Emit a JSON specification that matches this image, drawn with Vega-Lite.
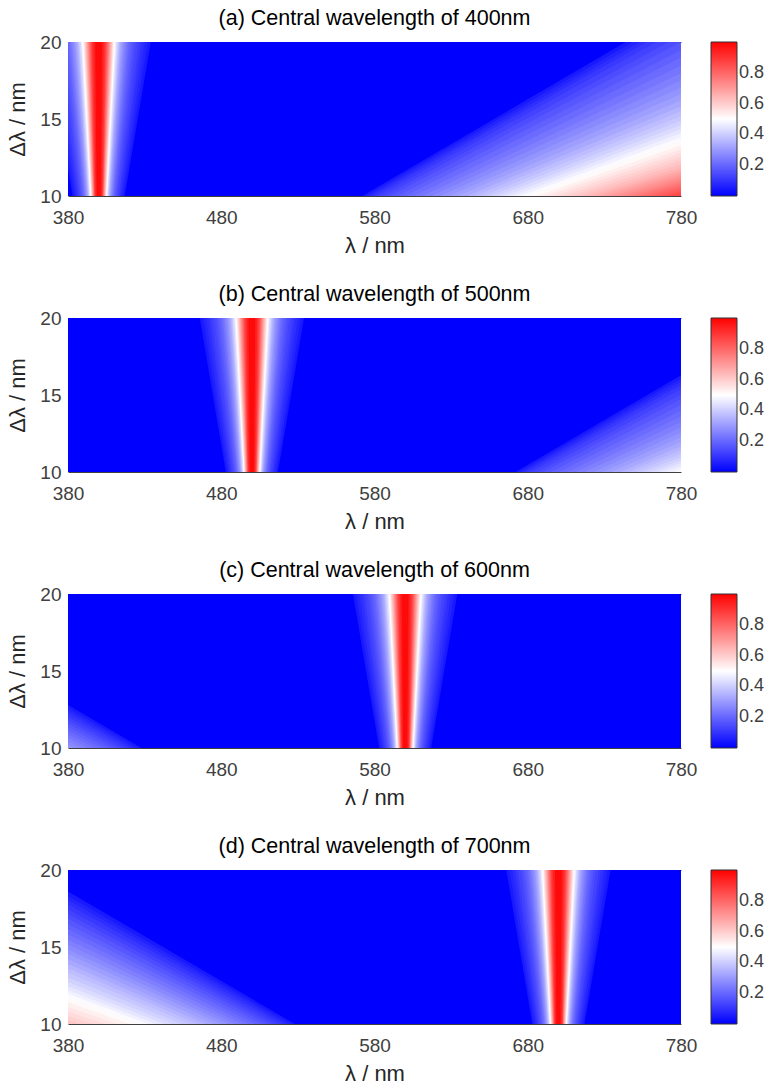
{
  "$schema": "https://vega.github.io/schema/vega-lite/v6.json",
  "padding": {"left": 6, "top": 7, "right": 0, "bottom": 0},
  "config": {
    "font": "Liberation Sans",
    "view": {"stroke": null},
    "axis": {"labelFont": "Liberation Sans", "labelFontSize": 19, "labelColor": "#404040", "titleFont": "Liberation Sans", "titleFontSize": 22, "titleFontWeight": "normal", "titleColor": "#262626", "grid": false, "ticks": false, "labelFlush": false},
    "title": {"font": "Liberation Sans", "fontSize": 21.5, "fontWeight": "normal", "color": "#000000"},
    "legend": {"title": null, "gradientLength": 154, "gradientThickness": 26, "gradientStrokeColor": "#333333", "gradientStrokeWidth": 1, "labelFont": "Liberation Sans", "labelFontSize": 18, "labelColor": "#404040", "labelOffset": 8, "offset": 30, "direction": "vertical", "orient": "right"}
  },
  "spacing": 27,
  "resolve": {"scale": {"color": "independent"}},
  "vconcat": [
    {
      "title": "(a) Central wavelength of 400nm",
      "width": 613, "height": 154,
      "data": {"values": [
        {"g":"bg","v":0,"d":10,"a":360,"b":800},{"g":"bg","v":0,"d":20,"a":360,"b":800},
        {"g":"m","v":0.05,"d":10,"a":383,"b":417},{"g":"m","v":0.05,"d":20,"a":366,"b":434},
        {"g":"m","v":0.07,"d":10,"a":384,"b":416},{"g":"m","v":0.07,"d":20,"a":368,"b":432},
        {"g":"m","v":0.09,"d":10,"a":385,"b":415},{"g":"m","v":0.09,"d":20,"a":370,"b":430},
        {"g":"m","v":0.11,"d":10,"a":386,"b":414},{"g":"m","v":0.11,"d":20,"a":372,"b":428},
        {"g":"m","v":0.13,"d":10,"a":386.8,"b":413.2},{"g":"m","v":0.13,"d":20,"a":373.6,"b":426.4},
        {"g":"m","v":0.15,"d":10,"a":387.8,"b":412.2},{"g":"m","v":0.15,"d":20,"a":375.6,"b":424.4},
        {"g":"m","v":0.17,"d":10,"a":388.6,"b":411.4},{"g":"m","v":0.17,"d":20,"a":377.2,"b":422.8},
        {"g":"m","v":0.19,"d":10,"a":389.3,"b":410.7},{"g":"m","v":0.19,"d":20,"a":378.6,"b":421.4},
        {"g":"m","v":0.21,"d":10,"a":390,"b":410},{"g":"m","v":0.21,"d":20,"a":380,"b":420},
        {"g":"m","v":0.23,"d":10,"a":390.5,"b":409.5},{"g":"m","v":0.23,"d":20,"a":381,"b":419},
        {"g":"m","v":0.25,"d":10,"a":391,"b":409},{"g":"m","v":0.25,"d":20,"a":382,"b":418},
        {"g":"m","v":0.27,"d":10,"a":391.45,"b":408.55},{"g":"m","v":0.27,"d":20,"a":382.9,"b":417.1},
        {"g":"m","v":0.29,"d":10,"a":391.9,"b":408.1},{"g":"m","v":0.29,"d":20,"a":383.8,"b":416.2},
        {"g":"m","v":0.31,"d":10,"a":392.3,"b":407.7},{"g":"m","v":0.31,"d":20,"a":384.6,"b":415.4},
        {"g":"m","v":0.33,"d":10,"a":392.6,"b":407.4},{"g":"m","v":0.33,"d":20,"a":385.2,"b":414.8},
        {"g":"m","v":0.35,"d":10,"a":393,"b":407},{"g":"m","v":0.35,"d":20,"a":386,"b":414},
        {"g":"m","v":0.37,"d":10,"a":393.25,"b":406.75},{"g":"m","v":0.37,"d":20,"a":386.5,"b":413.5},
        {"g":"m","v":0.39,"d":10,"a":393.5,"b":406.5},{"g":"m","v":0.39,"d":20,"a":387,"b":413},
        {"g":"m","v":0.42,"d":10,"a":393.75,"b":406.25},{"g":"m","v":0.42,"d":20,"a":387.5,"b":412.5},
        {"g":"m","v":0.46,"d":10,"a":394.2,"b":405.8},{"g":"m","v":0.46,"d":20,"a":388.4,"b":411.6},
        {"g":"m","v":0.50,"d":10,"a":394.6,"b":405.4},{"g":"m","v":0.50,"d":20,"a":389.2,"b":410.8},
        {"g":"m","v":0.54,"d":10,"a":395,"b":405},{"g":"m","v":0.54,"d":20,"a":390,"b":410},
        {"g":"m","v":0.58,"d":10,"a":395.3,"b":404.7},{"g":"m","v":0.58,"d":20,"a":390.6,"b":409.4},
        {"g":"m","v":0.62,"d":10,"a":395.6,"b":404.4},{"g":"m","v":0.62,"d":20,"a":391.2,"b":408.8},
        {"g":"m","v":0.66,"d":10,"a":395.9,"b":404.1},{"g":"m","v":0.66,"d":20,"a":391.8,"b":408.2},
        {"g":"m","v":0.70,"d":10,"a":396.2,"b":403.8},{"g":"m","v":0.70,"d":20,"a":392.4,"b":407.6},
        {"g":"m","v":0.74,"d":10,"a":396.5,"b":403.5},{"g":"m","v":0.74,"d":20,"a":393,"b":407},
        {"g":"m","v":0.78,"d":10,"a":396.8,"b":403.2},{"g":"m","v":0.78,"d":20,"a":393.6,"b":406.4},
        {"g":"m","v":0.82,"d":10,"a":397.1,"b":402.9},{"g":"m","v":0.82,"d":20,"a":394.2,"b":405.8},
        {"g":"m","v":0.86,"d":10,"a":397.2,"b":402.8},{"g":"m","v":0.86,"d":20,"a":394.9,"b":405.1},
        {"g":"m","v":0.90,"d":10,"a":397.55,"b":402.45},{"g":"m","v":0.90,"d":20,"a":395.6,"b":404.4},
        {"g":"m","v":0.94,"d":10,"a":398.05,"b":401.95},{"g":"m","v":0.94,"d":20,"a":396.6,"b":403.4},
        {"g":"m","v":0.98,"d":10,"a":398.7,"b":401.3},{"g":"m","v":0.98,"d":20,"a":397.8,"b":402.2},
        {"g":"s","v":0.05,"d":10,"a":572,"b":800},{"g":"s","v":0.05,"d":20,"a":744,"b":800},
        {"g":"s","v":0.07,"d":10,"a":574.3,"b":800},{"g":"s","v":0.07,"d":20,"a":748.6,"b":800},
        {"g":"s","v":0.09,"d":10,"a":576.6,"b":800},{"g":"s","v":0.09,"d":20,"a":753.2,"b":800},
        {"g":"s","v":0.11,"d":10,"a":578.9,"b":800},{"g":"s","v":0.11,"d":20,"a":757.8,"b":800},
        {"g":"s","v":0.13,"d":10,"a":582,"b":800},{"g":"s","v":0.13,"d":20,"a":764,"b":800},
        {"g":"s","v":0.15,"d":10,"a":586,"b":800},{"g":"s","v":0.15,"d":20,"a":772,"b":800},
        {"g":"s","v":0.17,"d":10,"a":590,"b":800},{"g":"s","v":0.17,"d":20,"a":780,"b":800},
        {"g":"s","v":0.19,"d":10,"a":595,"b":800},{"g":"s","v":0.19,"d":20,"a":790,"b":800},
        {"g":"s","v":0.21,"d":10,"a":600,"b":800},{"g":"s","v":0.21,"d":20,"a":800,"b":800},
        {"g":"s","v":0.23,"d":10,"a":605.7,"b":800},{"g":"s","v":0.23,"d":20,"a":811.4,"b":800},
        {"g":"s","v":0.25,"d":10,"a":611.4,"b":800},{"g":"s","v":0.25,"d":20,"a":822.8,"b":800},
        {"g":"s","v":0.27,"d":10,"a":617.1,"b":800},{"g":"s","v":0.27,"d":20,"a":834.2,"b":800},
        {"g":"s","v":0.29,"d":10,"a":622.9,"b":800},{"g":"s","v":0.29,"d":20,"a":845.8,"b":800},
        {"g":"s","v":0.31,"d":10,"a":628.6,"b":800},{"g":"s","v":0.31,"d":20,"a":857.2,"b":800},
        {"g":"s","v":0.33,"d":10,"a":634.3,"b":800},{"g":"s","v":0.33,"d":20,"a":868.6,"b":800},
        {"g":"s","v":0.35,"d":10,"a":640,"b":800},{"g":"s","v":0.35,"d":20,"a":880,"b":800},
        {"g":"s","v":0.37,"d":10,"a":645,"b":800},{"g":"s","v":0.37,"d":20,"a":890,"b":800},
        {"g":"s","v":0.39,"d":10,"a":650,"b":800},{"g":"s","v":0.39,"d":20,"a":900,"b":800},
        {"g":"s","v":0.41,"d":10,"a":655,"b":800},{"g":"s","v":0.41,"d":20,"a":910,"b":800},
        {"g":"s","v":0.43,"d":10,"a":660,"b":800},{"g":"s","v":0.43,"d":20,"a":920,"b":800},
        {"g":"s","v":0.45,"d":10,"a":665,"b":800},{"g":"s","v":0.45,"d":20,"a":930,"b":800},
        {"g":"s","v":0.47,"d":10,"a":670,"b":800},{"g":"s","v":0.47,"d":20,"a":940,"b":800},
        {"g":"s","v":0.49,"d":10,"a":675,"b":800},{"g":"s","v":0.49,"d":20,"a":950,"b":800},
        {"g":"s","v":0.51,"d":10,"a":680,"b":800},{"g":"s","v":0.51,"d":20,"a":960,"b":800},
        {"g":"s","v":0.53,"d":10,"a":685.7,"b":800},{"g":"s","v":0.53,"d":20,"a":971.4,"b":800},
        {"g":"s","v":0.55,"d":10,"a":691.4,"b":800},{"g":"s","v":0.55,"d":20,"a":982.8,"b":800},
        {"g":"s","v":0.57,"d":10,"a":697.1,"b":800},{"g":"s","v":0.57,"d":20,"a":994.2,"b":800},
        {"g":"s","v":0.59,"d":10,"a":702.9,"b":800},{"g":"s","v":0.59,"d":20,"a":1005.8,"b":800},
        {"g":"s","v":0.61,"d":10,"a":708.6,"b":800},{"g":"s","v":0.61,"d":20,"a":1017.2,"b":800},
        {"g":"s","v":0.63,"d":10,"a":714.3,"b":800},{"g":"s","v":0.63,"d":20,"a":1028.6,"b":800},
        {"g":"s","v":0.65,"d":10,"a":720,"b":800},{"g":"s","v":0.65,"d":20,"a":1040,"b":800},
        {"g":"s","v":0.67,"d":10,"a":725,"b":800},{"g":"s","v":0.67,"d":20,"a":1050,"b":800},
        {"g":"s","v":0.69,"d":10,"a":730,"b":800},{"g":"s","v":0.69,"d":20,"a":1060,"b":800},
        {"g":"s","v":0.71,"d":10,"a":735,"b":800},{"g":"s","v":0.71,"d":20,"a":1070,"b":800},
        {"g":"s","v":0.73,"d":10,"a":740,"b":800},{"g":"s","v":0.73,"d":20,"a":1080,"b":800},
        {"g":"s","v":0.75,"d":10,"a":745,"b":800},{"g":"s","v":0.75,"d":20,"a":1090,"b":800},
        {"g":"s","v":0.77,"d":10,"a":750,"b":800},{"g":"s","v":0.77,"d":20,"a":1100,"b":800},
        {"g":"s","v":0.79,"d":10,"a":755,"b":800},{"g":"s","v":0.79,"d":20,"a":1110,"b":800},
        {"g":"s","v":0.81,"d":10,"a":760,"b":800},{"g":"s","v":0.81,"d":20,"a":1120,"b":800},
        {"g":"s","v":0.83,"d":10,"a":765,"b":800},{"g":"s","v":0.83,"d":20,"a":1130,"b":800},
        {"g":"s","v":0.85,"d":10,"a":770,"b":800},{"g":"s","v":0.85,"d":20,"a":1140,"b":800},
        {"g":"s","v":0.87,"d":10,"a":775,"b":800},{"g":"s","v":0.87,"d":20,"a":1150,"b":800}
      ]},
      "layer": [
        {
          "mark": {"type": "area", "orient": "horizontal", "clip": true},
          "encoding": {
            "y": {"field": "d", "type": "quantitative", "scale": {"domain": [10, 20], "nice": false, "zero": false}, "axis": {"values": [10, 15, 20], "title": "Δλ / nm", "domain": false, "labelPadding": 7, "titlePadding": 10}},
            "x": {"field": "a", "type": "quantitative", "stack": null, "scale": {"domain": [380, 780], "nice": false, "zero": false}, "axis": {"values": [380, 480, 580, 680, 780], "title": "λ / nm", "domain": true, "domainColor": "#404040", "labelPadding": 12, "titlePadding": 8}},
            "x2": {"field": "b"},
            "color": {"field": "v", "type": "quantitative", "scale": {"domain": [0, 0.5, 1], "range": ["#0000ff", "#ffffff", "#ff0000"], "interpolate": "rgb"}, "legend": {"values": [0.2, 0.4, 0.6, 0.8]}},
            "detail": {"field": "g"}
          }
        },
        {
          "data": {"values": [{"a": 380, "d": 10}]},
          "mark": {"type": "point", "opacity": 0},
          "encoding": {
            "x": {"field": "a", "type": "quantitative", "scale": {"domain": [380, 780], "nice": false, "zero": false}, "axis": {"orient": "top", "labels": false, "ticks": false, "title": null, "domain": true, "domainColor": "#404040"}},
            "y": {"field": "d", "type": "quantitative"}
          }
        }
      ],
      "resolve": {"axis": {"x": "independent"}}
    },
    {
      "title": "(b) Central wavelength of 500nm",
      "width": 613, "height": 154,
      "data": {"values": [
        {"g":"bg","v":0,"d":10,"a":360,"b":800},{"g":"bg","v":0,"d":20,"a":360,"b":800},
        {"g":"m","v":0.05,"d":10,"a":483,"b":517},{"g":"m","v":0.05,"d":20,"a":466,"b":534},
        {"g":"m","v":0.07,"d":10,"a":484,"b":516},{"g":"m","v":0.07,"d":20,"a":468,"b":532},
        {"g":"m","v":0.09,"d":10,"a":485,"b":515},{"g":"m","v":0.09,"d":20,"a":470,"b":530},
        {"g":"m","v":0.11,"d":10,"a":486,"b":514},{"g":"m","v":0.11,"d":20,"a":472,"b":528},
        {"g":"m","v":0.13,"d":10,"a":486.8,"b":513.2},{"g":"m","v":0.13,"d":20,"a":473.6,"b":526.4},
        {"g":"m","v":0.15,"d":10,"a":487.8,"b":512.2},{"g":"m","v":0.15,"d":20,"a":475.6,"b":524.4},
        {"g":"m","v":0.17,"d":10,"a":488.6,"b":511.4},{"g":"m","v":0.17,"d":20,"a":477.2,"b":522.8},
        {"g":"m","v":0.19,"d":10,"a":489.3,"b":510.7},{"g":"m","v":0.19,"d":20,"a":478.6,"b":521.4},
        {"g":"m","v":0.21,"d":10,"a":490,"b":510},{"g":"m","v":0.21,"d":20,"a":480,"b":520},
        {"g":"m","v":0.23,"d":10,"a":490.5,"b":509.5},{"g":"m","v":0.23,"d":20,"a":481,"b":519},
        {"g":"m","v":0.25,"d":10,"a":491,"b":509},{"g":"m","v":0.25,"d":20,"a":482,"b":518},
        {"g":"m","v":0.27,"d":10,"a":491.45,"b":508.55},{"g":"m","v":0.27,"d":20,"a":482.9,"b":517.1},
        {"g":"m","v":0.29,"d":10,"a":491.9,"b":508.1},{"g":"m","v":0.29,"d":20,"a":483.8,"b":516.2},
        {"g":"m","v":0.31,"d":10,"a":492.3,"b":507.7},{"g":"m","v":0.31,"d":20,"a":484.6,"b":515.4},
        {"g":"m","v":0.33,"d":10,"a":492.6,"b":507.4},{"g":"m","v":0.33,"d":20,"a":485.2,"b":514.8},
        {"g":"m","v":0.35,"d":10,"a":493,"b":507},{"g":"m","v":0.35,"d":20,"a":486,"b":514},
        {"g":"m","v":0.37,"d":10,"a":493.25,"b":506.75},{"g":"m","v":0.37,"d":20,"a":486.5,"b":513.5},
        {"g":"m","v":0.39,"d":10,"a":493.5,"b":506.5},{"g":"m","v":0.39,"d":20,"a":487,"b":513},
        {"g":"m","v":0.42,"d":10,"a":493.75,"b":506.25},{"g":"m","v":0.42,"d":20,"a":487.5,"b":512.5},
        {"g":"m","v":0.46,"d":10,"a":494.2,"b":505.8},{"g":"m","v":0.46,"d":20,"a":488.4,"b":511.6},
        {"g":"m","v":0.50,"d":10,"a":494.6,"b":505.4},{"g":"m","v":0.50,"d":20,"a":489.2,"b":510.8},
        {"g":"m","v":0.54,"d":10,"a":495,"b":505},{"g":"m","v":0.54,"d":20,"a":490,"b":510},
        {"g":"m","v":0.58,"d":10,"a":495.3,"b":504.7},{"g":"m","v":0.58,"d":20,"a":490.6,"b":509.4},
        {"g":"m","v":0.62,"d":10,"a":495.6,"b":504.4},{"g":"m","v":0.62,"d":20,"a":491.2,"b":508.8},
        {"g":"m","v":0.66,"d":10,"a":495.9,"b":504.1},{"g":"m","v":0.66,"d":20,"a":491.8,"b":508.2},
        {"g":"m","v":0.70,"d":10,"a":496.2,"b":503.8},{"g":"m","v":0.70,"d":20,"a":492.4,"b":507.6},
        {"g":"m","v":0.74,"d":10,"a":496.5,"b":503.5},{"g":"m","v":0.74,"d":20,"a":493,"b":507},
        {"g":"m","v":0.78,"d":10,"a":496.8,"b":503.2},{"g":"m","v":0.78,"d":20,"a":493.6,"b":506.4},
        {"g":"m","v":0.82,"d":10,"a":497.1,"b":502.9},{"g":"m","v":0.82,"d":20,"a":494.2,"b":505.8},
        {"g":"m","v":0.86,"d":10,"a":497.2,"b":502.8},{"g":"m","v":0.86,"d":20,"a":494.9,"b":505.1},
        {"g":"m","v":0.90,"d":10,"a":497.55,"b":502.45},{"g":"m","v":0.90,"d":20,"a":495.6,"b":504.4},
        {"g":"m","v":0.94,"d":10,"a":498.05,"b":501.95},{"g":"m","v":0.94,"d":20,"a":496.6,"b":503.4},
        {"g":"m","v":0.98,"d":10,"a":498.7,"b":501.3},{"g":"m","v":0.98,"d":20,"a":497.8,"b":502.2},
        {"g":"s","v":0.05,"d":10,"a":672,"b":800},{"g":"s","v":0.05,"d":20,"a":844,"b":800},
        {"g":"s","v":0.07,"d":10,"a":674.3,"b":800},{"g":"s","v":0.07,"d":20,"a":848.6,"b":800},
        {"g":"s","v":0.09,"d":10,"a":676.6,"b":800},{"g":"s","v":0.09,"d":20,"a":853.2,"b":800},
        {"g":"s","v":0.11,"d":10,"a":678.9,"b":800},{"g":"s","v":0.11,"d":20,"a":857.8,"b":800},
        {"g":"s","v":0.13,"d":10,"a":682,"b":800},{"g":"s","v":0.13,"d":20,"a":864,"b":800},
        {"g":"s","v":0.15,"d":10,"a":686,"b":800},{"g":"s","v":0.15,"d":20,"a":872,"b":800},
        {"g":"s","v":0.17,"d":10,"a":690,"b":800},{"g":"s","v":0.17,"d":20,"a":880,"b":800},
        {"g":"s","v":0.19,"d":10,"a":695,"b":800},{"g":"s","v":0.19,"d":20,"a":890,"b":800},
        {"g":"s","v":0.21,"d":10,"a":700,"b":800},{"g":"s","v":0.21,"d":20,"a":900,"b":800},
        {"g":"s","v":0.23,"d":10,"a":705.7,"b":800},{"g":"s","v":0.23,"d":20,"a":911.4,"b":800},
        {"g":"s","v":0.25,"d":10,"a":711.4,"b":800},{"g":"s","v":0.25,"d":20,"a":922.8,"b":800},
        {"g":"s","v":0.27,"d":10,"a":717.1,"b":800},{"g":"s","v":0.27,"d":20,"a":934.2,"b":800},
        {"g":"s","v":0.29,"d":10,"a":722.9,"b":800},{"g":"s","v":0.29,"d":20,"a":945.8,"b":800},
        {"g":"s","v":0.31,"d":10,"a":728.6,"b":800},{"g":"s","v":0.31,"d":20,"a":957.2,"b":800},
        {"g":"s","v":0.33,"d":10,"a":734.3,"b":800},{"g":"s","v":0.33,"d":20,"a":968.6,"b":800},
        {"g":"s","v":0.35,"d":10,"a":740,"b":800},{"g":"s","v":0.35,"d":20,"a":980,"b":800},
        {"g":"s","v":0.37,"d":10,"a":745,"b":800},{"g":"s","v":0.37,"d":20,"a":990,"b":800},
        {"g":"s","v":0.39,"d":10,"a":750,"b":800},{"g":"s","v":0.39,"d":20,"a":1000,"b":800},
        {"g":"s","v":0.41,"d":10,"a":755,"b":800},{"g":"s","v":0.41,"d":20,"a":1010,"b":800},
        {"g":"s","v":0.43,"d":10,"a":760,"b":800},{"g":"s","v":0.43,"d":20,"a":1020,"b":800},
        {"g":"s","v":0.45,"d":10,"a":765,"b":800},{"g":"s","v":0.45,"d":20,"a":1030,"b":800},
        {"g":"s","v":0.47,"d":10,"a":770,"b":800},{"g":"s","v":0.47,"d":20,"a":1040,"b":800},
        {"g":"s","v":0.49,"d":10,"a":775,"b":800},{"g":"s","v":0.49,"d":20,"a":1050,"b":800}
      ]},
      "layer": [
        {
          "mark": {"type": "area", "orient": "horizontal", "clip": true},
          "encoding": {
            "y": {"field": "d", "type": "quantitative", "scale": {"domain": [10, 20], "nice": false, "zero": false}, "axis": {"values": [10, 15, 20], "title": "Δλ / nm", "domain": false, "labelPadding": 7, "titlePadding": 10}},
            "x": {"field": "a", "type": "quantitative", "stack": null, "scale": {"domain": [380, 780], "nice": false, "zero": false}, "axis": {"values": [380, 480, 580, 680, 780], "title": "λ / nm", "domain": true, "domainColor": "#404040", "labelPadding": 12, "titlePadding": 8}},
            "x2": {"field": "b"},
            "color": {"field": "v", "type": "quantitative", "scale": {"domain": [0, 0.5, 1], "range": ["#0000ff", "#ffffff", "#ff0000"], "interpolate": "rgb"}, "legend": {"values": [0.2, 0.4, 0.6, 0.8]}},
            "detail": {"field": "g"}
          }
        },
        {
          "data": {"values": [{"a": 380, "d": 10}]},
          "mark": {"type": "point", "opacity": 0},
          "encoding": {
            "x": {"field": "a", "type": "quantitative", "scale": {"domain": [380, 780], "nice": false, "zero": false}, "axis": {"orient": "top", "labels": false, "ticks": false, "title": null, "domain": true, "domainColor": "#404040"}},
            "y": {"field": "d", "type": "quantitative"}
          }
        }
      ],
      "resolve": {"axis": {"x": "independent"}}
    },
    {
      "title": "(c) Central wavelength of 600nm",
      "width": 613, "height": 154,
      "data": {"values": [
        {"g":"bg","v":0,"d":10,"a":360,"b":800},{"g":"bg","v":0,"d":20,"a":360,"b":800},
        {"g":"m","v":0.05,"d":10,"a":583,"b":617},{"g":"m","v":0.05,"d":20,"a":566,"b":634},
        {"g":"m","v":0.07,"d":10,"a":584,"b":616},{"g":"m","v":0.07,"d":20,"a":568,"b":632},
        {"g":"m","v":0.09,"d":10,"a":585,"b":615},{"g":"m","v":0.09,"d":20,"a":570,"b":630},
        {"g":"m","v":0.11,"d":10,"a":586,"b":614},{"g":"m","v":0.11,"d":20,"a":572,"b":628},
        {"g":"m","v":0.13,"d":10,"a":586.8,"b":613.2},{"g":"m","v":0.13,"d":20,"a":573.6,"b":626.4},
        {"g":"m","v":0.15,"d":10,"a":587.8,"b":612.2},{"g":"m","v":0.15,"d":20,"a":575.6,"b":624.4},
        {"g":"m","v":0.17,"d":10,"a":588.6,"b":611.4},{"g":"m","v":0.17,"d":20,"a":577.2,"b":622.8},
        {"g":"m","v":0.19,"d":10,"a":589.3,"b":610.7},{"g":"m","v":0.19,"d":20,"a":578.6,"b":621.4},
        {"g":"m","v":0.21,"d":10,"a":590,"b":610},{"g":"m","v":0.21,"d":20,"a":580,"b":620},
        {"g":"m","v":0.23,"d":10,"a":590.5,"b":609.5},{"g":"m","v":0.23,"d":20,"a":581,"b":619},
        {"g":"m","v":0.25,"d":10,"a":591,"b":609},{"g":"m","v":0.25,"d":20,"a":582,"b":618},
        {"g":"m","v":0.27,"d":10,"a":591.45,"b":608.55},{"g":"m","v":0.27,"d":20,"a":582.9,"b":617.1},
        {"g":"m","v":0.29,"d":10,"a":591.9,"b":608.1},{"g":"m","v":0.29,"d":20,"a":583.8,"b":616.2},
        {"g":"m","v":0.31,"d":10,"a":592.3,"b":607.7},{"g":"m","v":0.31,"d":20,"a":584.6,"b":615.4},
        {"g":"m","v":0.33,"d":10,"a":592.6,"b":607.4},{"g":"m","v":0.33,"d":20,"a":585.2,"b":614.8},
        {"g":"m","v":0.35,"d":10,"a":593,"b":607},{"g":"m","v":0.35,"d":20,"a":586,"b":614},
        {"g":"m","v":0.37,"d":10,"a":593.25,"b":606.75},{"g":"m","v":0.37,"d":20,"a":586.5,"b":613.5},
        {"g":"m","v":0.39,"d":10,"a":593.5,"b":606.5},{"g":"m","v":0.39,"d":20,"a":587,"b":613},
        {"g":"m","v":0.42,"d":10,"a":593.75,"b":606.25},{"g":"m","v":0.42,"d":20,"a":587.5,"b":612.5},
        {"g":"m","v":0.46,"d":10,"a":594.2,"b":605.8},{"g":"m","v":0.46,"d":20,"a":588.4,"b":611.6},
        {"g":"m","v":0.50,"d":10,"a":594.6,"b":605.4},{"g":"m","v":0.50,"d":20,"a":589.2,"b":610.8},
        {"g":"m","v":0.54,"d":10,"a":595,"b":605},{"g":"m","v":0.54,"d":20,"a":590,"b":610},
        {"g":"m","v":0.58,"d":10,"a":595.3,"b":604.7},{"g":"m","v":0.58,"d":20,"a":590.6,"b":609.4},
        {"g":"m","v":0.62,"d":10,"a":595.6,"b":604.4},{"g":"m","v":0.62,"d":20,"a":591.2,"b":608.8},
        {"g":"m","v":0.66,"d":10,"a":595.9,"b":604.1},{"g":"m","v":0.66,"d":20,"a":591.8,"b":608.2},
        {"g":"m","v":0.70,"d":10,"a":596.2,"b":603.8},{"g":"m","v":0.70,"d":20,"a":592.4,"b":607.6},
        {"g":"m","v":0.74,"d":10,"a":596.5,"b":603.5},{"g":"m","v":0.74,"d":20,"a":593,"b":607},
        {"g":"m","v":0.78,"d":10,"a":596.8,"b":603.2},{"g":"m","v":0.78,"d":20,"a":593.6,"b":606.4},
        {"g":"m","v":0.82,"d":10,"a":597.1,"b":602.9},{"g":"m","v":0.82,"d":20,"a":594.2,"b":605.8},
        {"g":"m","v":0.86,"d":10,"a":597.2,"b":602.8},{"g":"m","v":0.86,"d":20,"a":594.9,"b":605.1},
        {"g":"m","v":0.90,"d":10,"a":597.55,"b":602.45},{"g":"m","v":0.90,"d":20,"a":595.6,"b":604.4},
        {"g":"m","v":0.94,"d":10,"a":598.05,"b":601.95},{"g":"m","v":0.94,"d":20,"a":596.6,"b":603.4},
        {"g":"m","v":0.98,"d":10,"a":598.7,"b":601.3},{"g":"m","v":0.98,"d":20,"a":597.8,"b":602.2},
        {"g":"s","v":0.05,"d":10,"a":360,"b":428},{"g":"s","v":0.05,"d":20,"a":360,"b":256},
        {"g":"s","v":0.07,"d":10,"a":360,"b":425.3},{"g":"s","v":0.07,"d":20,"a":360,"b":250.6},
        {"g":"s","v":0.09,"d":10,"a":360,"b":422.7},{"g":"s","v":0.09,"d":20,"a":360,"b":245.4},
        {"g":"s","v":0.11,"d":10,"a":360,"b":420},{"g":"s","v":0.11,"d":20,"a":360,"b":240},
        {"g":"s","v":0.13,"d":10,"a":360,"b":416.7},{"g":"s","v":0.13,"d":20,"a":360,"b":233.4},
        {"g":"s","v":0.15,"d":10,"a":360,"b":413.3},{"g":"s","v":0.15,"d":20,"a":360,"b":226.6},
        {"g":"s","v":0.17,"d":10,"a":360,"b":410},{"g":"s","v":0.17,"d":20,"a":360,"b":220},
        {"g":"s","v":0.19,"d":10,"a":360,"b":406},{"g":"s","v":0.19,"d":20,"a":360,"b":212},
        {"g":"s","v":0.21,"d":10,"a":360,"b":402},{"g":"s","v":0.21,"d":20,"a":360,"b":204},
        {"g":"s","v":0.23,"d":10,"a":360,"b":397.8},{"g":"s","v":0.23,"d":20,"a":360,"b":195.6},
        {"g":"s","v":0.25,"d":10,"a":360,"b":393.3},{"g":"s","v":0.25,"d":20,"a":360,"b":186.6},
        {"g":"s","v":0.27,"d":10,"a":360,"b":388.9},{"g":"s","v":0.27,"d":20,"a":360,"b":177.8},
        {"g":"s","v":0.29,"d":10,"a":360,"b":384.4},{"g":"s","v":0.29,"d":20,"a":360,"b":168.8}
      ]},
      "layer": [
        {
          "mark": {"type": "area", "orient": "horizontal", "clip": true},
          "encoding": {
            "y": {"field": "d", "type": "quantitative", "scale": {"domain": [10, 20], "nice": false, "zero": false}, "axis": {"values": [10, 15, 20], "title": "Δλ / nm", "domain": false, "labelPadding": 7, "titlePadding": 10}},
            "x": {"field": "a", "type": "quantitative", "stack": null, "scale": {"domain": [380, 780], "nice": false, "zero": false}, "axis": {"values": [380, 480, 580, 680, 780], "title": "λ / nm", "domain": true, "domainColor": "#404040", "labelPadding": 12, "titlePadding": 8}},
            "x2": {"field": "b"},
            "color": {"field": "v", "type": "quantitative", "scale": {"domain": [0, 0.5, 1], "range": ["#0000ff", "#ffffff", "#ff0000"], "interpolate": "rgb"}, "legend": {"values": [0.2, 0.4, 0.6, 0.8]}},
            "detail": {"field": "g"}
          }
        },
        {
          "data": {"values": [{"a": 380, "d": 10}]},
          "mark": {"type": "point", "opacity": 0},
          "encoding": {
            "x": {"field": "a", "type": "quantitative", "scale": {"domain": [380, 780], "nice": false, "zero": false}, "axis": {"orient": "top", "labels": false, "ticks": false, "title": null, "domain": true, "domainColor": "#404040"}},
            "y": {"field": "d", "type": "quantitative"}
          }
        }
      ],
      "resolve": {"axis": {"x": "independent"}}
    },
    {
      "title": "(d) Central wavelength of 700nm",
      "width": 613, "height": 154,
      "data": {"values": [
        {"g":"bg","v":0,"d":10,"a":360,"b":800},{"g":"bg","v":0,"d":20,"a":360,"b":800},
        {"g":"m","v":0.05,"d":10,"a":683,"b":717},{"g":"m","v":0.05,"d":20,"a":666,"b":734},
        {"g":"m","v":0.07,"d":10,"a":684,"b":716},{"g":"m","v":0.07,"d":20,"a":668,"b":732},
        {"g":"m","v":0.09,"d":10,"a":685,"b":715},{"g":"m","v":0.09,"d":20,"a":670,"b":730},
        {"g":"m","v":0.11,"d":10,"a":686,"b":714},{"g":"m","v":0.11,"d":20,"a":672,"b":728},
        {"g":"m","v":0.13,"d":10,"a":686.8,"b":713.2},{"g":"m","v":0.13,"d":20,"a":673.6,"b":726.4},
        {"g":"m","v":0.15,"d":10,"a":687.8,"b":712.2},{"g":"m","v":0.15,"d":20,"a":675.6,"b":724.4},
        {"g":"m","v":0.17,"d":10,"a":688.6,"b":711.4},{"g":"m","v":0.17,"d":20,"a":677.2,"b":722.8},
        {"g":"m","v":0.19,"d":10,"a":689.3,"b":710.7},{"g":"m","v":0.19,"d":20,"a":678.6,"b":721.4},
        {"g":"m","v":0.21,"d":10,"a":690,"b":710},{"g":"m","v":0.21,"d":20,"a":680,"b":720},
        {"g":"m","v":0.23,"d":10,"a":690.5,"b":709.5},{"g":"m","v":0.23,"d":20,"a":681,"b":719},
        {"g":"m","v":0.25,"d":10,"a":691,"b":709},{"g":"m","v":0.25,"d":20,"a":682,"b":718},
        {"g":"m","v":0.27,"d":10,"a":691.45,"b":708.55},{"g":"m","v":0.27,"d":20,"a":682.9,"b":717.1},
        {"g":"m","v":0.29,"d":10,"a":691.9,"b":708.1},{"g":"m","v":0.29,"d":20,"a":683.8,"b":716.2},
        {"g":"m","v":0.31,"d":10,"a":692.3,"b":707.7},{"g":"m","v":0.31,"d":20,"a":684.6,"b":715.4},
        {"g":"m","v":0.33,"d":10,"a":692.6,"b":707.4},{"g":"m","v":0.33,"d":20,"a":685.2,"b":714.8},
        {"g":"m","v":0.35,"d":10,"a":693,"b":707},{"g":"m","v":0.35,"d":20,"a":686,"b":714},
        {"g":"m","v":0.37,"d":10,"a":693.25,"b":706.75},{"g":"m","v":0.37,"d":20,"a":686.5,"b":713.5},
        {"g":"m","v":0.39,"d":10,"a":693.5,"b":706.5},{"g":"m","v":0.39,"d":20,"a":687,"b":713},
        {"g":"m","v":0.42,"d":10,"a":693.75,"b":706.25},{"g":"m","v":0.42,"d":20,"a":687.5,"b":712.5},
        {"g":"m","v":0.46,"d":10,"a":694.2,"b":705.8},{"g":"m","v":0.46,"d":20,"a":688.4,"b":711.6},
        {"g":"m","v":0.50,"d":10,"a":694.6,"b":705.4},{"g":"m","v":0.50,"d":20,"a":689.2,"b":710.8},
        {"g":"m","v":0.54,"d":10,"a":695,"b":705},{"g":"m","v":0.54,"d":20,"a":690,"b":710},
        {"g":"m","v":0.58,"d":10,"a":695.3,"b":704.7},{"g":"m","v":0.58,"d":20,"a":690.6,"b":709.4},
        {"g":"m","v":0.62,"d":10,"a":695.6,"b":704.4},{"g":"m","v":0.62,"d":20,"a":691.2,"b":708.8},
        {"g":"m","v":0.66,"d":10,"a":695.9,"b":704.1},{"g":"m","v":0.66,"d":20,"a":691.8,"b":708.2},
        {"g":"m","v":0.70,"d":10,"a":696.2,"b":703.8},{"g":"m","v":0.70,"d":20,"a":692.4,"b":707.6},
        {"g":"m","v":0.74,"d":10,"a":696.5,"b":703.5},{"g":"m","v":0.74,"d":20,"a":693,"b":707},
        {"g":"m","v":0.78,"d":10,"a":696.8,"b":703.2},{"g":"m","v":0.78,"d":20,"a":693.6,"b":706.4},
        {"g":"m","v":0.82,"d":10,"a":697.1,"b":702.9},{"g":"m","v":0.82,"d":20,"a":694.2,"b":705.8},
        {"g":"m","v":0.86,"d":10,"a":697.2,"b":702.8},{"g":"m","v":0.86,"d":20,"a":694.9,"b":705.1},
        {"g":"m","v":0.90,"d":10,"a":697.55,"b":702.45},{"g":"m","v":0.90,"d":20,"a":695.6,"b":704.4},
        {"g":"m","v":0.94,"d":10,"a":698.05,"b":701.95},{"g":"m","v":0.94,"d":20,"a":696.6,"b":703.4},
        {"g":"m","v":0.98,"d":10,"a":698.7,"b":701.3},{"g":"m","v":0.98,"d":20,"a":697.8,"b":702.2},
        {"g":"s","v":0.05,"d":10,"a":360,"b":528},{"g":"s","v":0.05,"d":20,"a":360,"b":356},
        {"g":"s","v":0.07,"d":10,"a":360,"b":525.3},{"g":"s","v":0.07,"d":20,"a":360,"b":350.6},
        {"g":"s","v":0.09,"d":10,"a":360,"b":522.7},{"g":"s","v":0.09,"d":20,"a":360,"b":345.4},
        {"g":"s","v":0.11,"d":10,"a":360,"b":520},{"g":"s","v":0.11,"d":20,"a":360,"b":340},
        {"g":"s","v":0.13,"d":10,"a":360,"b":516.7},{"g":"s","v":0.13,"d":20,"a":360,"b":333.4},
        {"g":"s","v":0.15,"d":10,"a":360,"b":513.3},{"g":"s","v":0.15,"d":20,"a":360,"b":326.6},
        {"g":"s","v":0.17,"d":10,"a":360,"b":510},{"g":"s","v":0.17,"d":20,"a":360,"b":320},
        {"g":"s","v":0.19,"d":10,"a":360,"b":506},{"g":"s","v":0.19,"d":20,"a":360,"b":312},
        {"g":"s","v":0.21,"d":10,"a":360,"b":502},{"g":"s","v":0.21,"d":20,"a":360,"b":304},
        {"g":"s","v":0.23,"d":10,"a":360,"b":497.8},{"g":"s","v":0.23,"d":20,"a":360,"b":295.6},
        {"g":"s","v":0.25,"d":10,"a":360,"b":493.3},{"g":"s","v":0.25,"d":20,"a":360,"b":286.6},
        {"g":"s","v":0.27,"d":10,"a":360,"b":488.9},{"g":"s","v":0.27,"d":20,"a":360,"b":277.8},
        {"g":"s","v":0.29,"d":10,"a":360,"b":484.4},{"g":"s","v":0.29,"d":20,"a":360,"b":268.8},
        {"g":"s","v":0.31,"d":10,"a":360,"b":480},{"g":"s","v":0.31,"d":20,"a":360,"b":260},
        {"g":"s","v":0.33,"d":10,"a":360,"b":475},{"g":"s","v":0.33,"d":20,"a":360,"b":250},
        {"g":"s","v":0.35,"d":10,"a":360,"b":470},{"g":"s","v":0.35,"d":20,"a":360,"b":240},
        {"g":"s","v":0.37,"d":10,"a":360,"b":465},{"g":"s","v":0.37,"d":20,"a":360,"b":230},
        {"g":"s","v":0.39,"d":10,"a":360,"b":460},{"g":"s","v":0.39,"d":20,"a":360,"b":220},
        {"g":"s","v":0.41,"d":10,"a":360,"b":454.3},{"g":"s","v":0.41,"d":20,"a":360,"b":208.6},
        {"g":"s","v":0.43,"d":10,"a":360,"b":448.6},{"g":"s","v":0.43,"d":20,"a":360,"b":197.2},
        {"g":"s","v":0.45,"d":10,"a":360,"b":442.9},{"g":"s","v":0.45,"d":20,"a":360,"b":185.8},
        {"g":"s","v":0.47,"d":10,"a":360,"b":437.5},{"g":"s","v":0.47,"d":20,"a":360,"b":175},
        {"g":"s","v":0.49,"d":10,"a":360,"b":432.5},{"g":"s","v":0.49,"d":20,"a":360,"b":165},
        {"g":"s","v":0.51,"d":10,"a":360,"b":426.7},{"g":"s","v":0.51,"d":20,"a":360,"b":153.4},
        {"g":"s","v":0.53,"d":10,"a":360,"b":420},{"g":"s","v":0.53,"d":20,"a":360,"b":140},
        {"g":"s","v":0.55,"d":10,"a":360,"b":412},{"g":"s","v":0.55,"d":20,"a":360,"b":124},
        {"g":"s","v":0.57,"d":10,"a":360,"b":404},{"g":"s","v":0.57,"d":20,"a":360,"b":108},
        {"g":"s","v":0.59,"d":10,"a":360,"b":396},{"g":"s","v":0.59,"d":20,"a":360,"b":92},
        {"g":"s","v":0.61,"d":10,"a":360,"b":388},{"g":"s","v":0.61,"d":20,"a":360,"b":76}
      ]},
      "layer": [
        {
          "mark": {"type": "area", "orient": "horizontal", "clip": true},
          "encoding": {
            "y": {"field": "d", "type": "quantitative", "scale": {"domain": [10, 20], "nice": false, "zero": false}, "axis": {"values": [10, 15, 20], "title": "Δλ / nm", "domain": false, "labelPadding": 7, "titlePadding": 10}},
            "x": {"field": "a", "type": "quantitative", "stack": null, "scale": {"domain": [380, 780], "nice": false, "zero": false}, "axis": {"values": [380, 480, 580, 680, 780], "title": "λ / nm", "domain": true, "domainColor": "#404040", "labelPadding": 12, "titlePadding": 8}},
            "x2": {"field": "b"},
            "color": {"field": "v", "type": "quantitative", "scale": {"domain": [0, 0.5, 1], "range": ["#0000ff", "#ffffff", "#ff0000"], "interpolate": "rgb"}, "legend": {"values": [0.2, 0.4, 0.6, 0.8]}},
            "detail": {"field": "g"}
          }
        },
        {
          "data": {"values": [{"a": 380, "d": 10}]},
          "mark": {"type": "point", "opacity": 0},
          "encoding": {
            "x": {"field": "a", "type": "quantitative", "scale": {"domain": [380, 780], "nice": false, "zero": false}, "axis": {"orient": "top", "labels": false, "ticks": false, "title": null, "domain": true, "domainColor": "#404040"}},
            "y": {"field": "d", "type": "quantitative"}
          }
        }
      ],
      "resolve": {"axis": {"x": "independent"}}
    }
  ]
}
